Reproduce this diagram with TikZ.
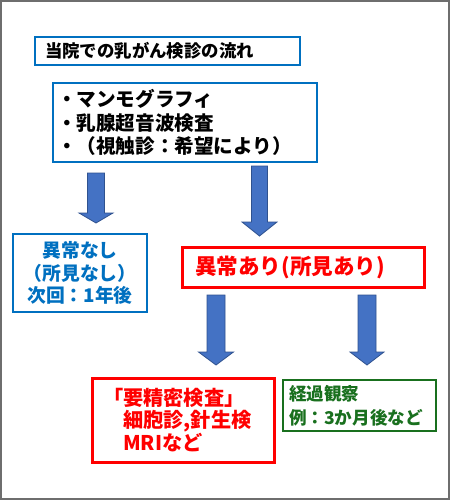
\documentclass[tikz,border=0pt]{standalone}
\usepackage{fontspec}
\setmainfont{Noto Sans CJK JP}
\usetikzlibrary{positioning}
\definecolor{boxblue}{HTML}{0070C0}
\definecolor{arrowfill}{HTML}{4472C4}
\definecolor{arrowedge}{HTML}{2F528F}
\definecolor{boxred}{HTML}{FF0000}
\definecolor{boxgreen}{HTML}{19701E}
\definecolor{framegray}{HTML}{6E6E6E}
\tikzset{
  box/.style={draw, rectangle, inner ysep=0pt, font=\bfseries},
  bluebox/.style={box, draw=boxblue, line width=2.5pt},
  redbox/.style={box, draw=boxred, line width=3pt, text=boxred},
  greenbox/.style={box, draw=boxgreen, line width=2.5pt, text=boxgreen},
  bigarrow/.style={fill=arrowfill, draw=arrowedge, line width=0.8pt, line join=miter},
}
% #1 centre x, #2 shaft half width, #3 head half width, #4 top, #5 head base, #6 tip
\newcommand{\downarrowshape}[6]{%
  \draw[bigarrow] (#1-#2,#4) -- (#1+#2,#4) -- (#1+#2,#5) -- (#1+#3,#5)
    -- (#1,#6) -- (#1-#3,#5) -- (#1-#2,#5) -- cycle;}
\begin{document}
\begin{tikzpicture}[x=1pt,y=-1pt]
\useasboundingbox (0,0) rectangle (450,500);
\fill[white] (0,0) rectangle (450,500);
\draw[framegray, line width=1.6pt] (0.8,0.8) rectangle (449.2,499.2);

% title
\node[bluebox, minimum width=265pt, minimum height=28pt, inner xsep=10pt,
      text width=245pt, align=left, font=\bfseries\fontsize{17.4}{20}\selectfont]
  (title) at (167.5,51) {当院での乳がん検診の流れ};

% exams
\node[bluebox, minimum width=264pt, minimum height=79pt, inner xsep=4pt,
      text width=256pt, align=left, font=\bfseries\fontsize{19.6}{23.5}\selectfont]
  (exams) at (185,122.5) {・マンモグラフィ\\・乳腺超音波検査\\・（視触診：希望により）};

% normal
\node[bluebox, text=boxblue, minimum width=134pt, minimum height=78pt, inner xsep=2pt,
      text width=130pt, align=center, font=\bfseries\fontsize{18.8}{22.5}\selectfont]
  (normal) at (80,273) {異常なし\\（所見なし）\\次回：1年後};

% abnormal
\node[redbox, minimum width=242pt, minimum height=40pt, inner xsep=13pt,
      text width=216pt, align=left, font=\bfseries\fontsize{21.6}{26}\selectfont]
  (abnormal) at (303,267) {異常あり(所見あり)};

% detailed
\node[redbox, minimum width=182pt, minimum height=84pt, inner xsep=11pt,
      text width=160pt, align=left, font=\bfseries\fontsize{20.2}{22.5}\selectfont]
  (detail) at (183,420) {「要精密検査」\\　細胞診,針生検\\　MRIなど};

% follow-up
\node[greenbox, minimum width=153pt, minimum height=51pt, inner xsep=6pt,
      text width=141pt, align=left, font=\bfseries\fontsize{17.6}{24}\selectfont]
  (follow) at (359.5,405.5) {経過観察\\例：3か月後など};

% arrows
\downarrowshape{96}{8.5}{17}{173}{213}{223}
\downarrowshape{259.5}{8}{17.5}{166}{222}{236}
\downarrowshape{216}{9}{17.5}{295}{352}{365}
\downarrowshape{367}{9}{17}{295}{352}{365}
\end{tikzpicture}
\end{document}
